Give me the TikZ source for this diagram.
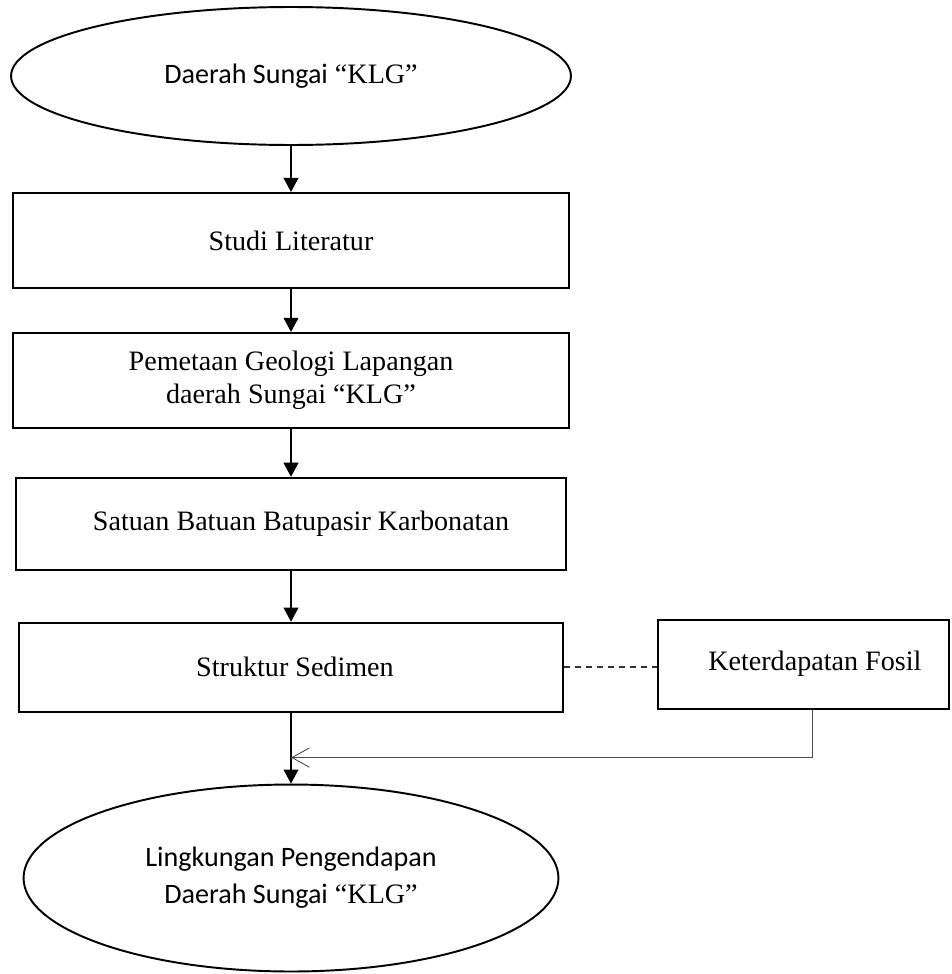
\documentclass[tikz,border=0pt]{standalone}
\usepackage{fontspec}
\setmainfont{Liberation Serif}
\newfontfamily\calibri{Carlito}
\usetikzlibrary{arrows.meta,positioning,shapes.geometric}

\begin{document}
\begin{tikzpicture}[x=0.02cm, y=-0.02cm, node distance=1cm,
    >=Latex,
    every node/.append style={align=center, font=\fontsize{16}{19}\selectfont},
    oval/.style={draw, ellipse, line width=1.1pt, inner sep=0pt},
    stage/.style={draw, rectangle, line width=1.1pt, inner sep=0pt},
    arr/.style={-{Triangle[length=8pt,width=8.5pt]}, line width=0.6pt},
    barb/.style={-{Straight Barb[length=10pt,width=11pt]}, line width=0.5pt, black!70},
    link/.style={dash pattern=on 3.4pt off 2.8pt, line width=1.1pt, black!80}]
    \useasboundingbox (0,0) rectangle (952,974);

   \node [oval, minimum width=11.2cm, minimum height=2.76cm] (daerah) at (291,76)
        {{\calibri Daerah Sungai} ``KLG''};
   \node [stage, minimum width=11.12cm, minimum height=1.9cm, below=0.92cm of daerah] (studi)
        {Studi Literatur};
   \node [stage, minimum width=11.12cm, minimum height=1.9cm, below=0.86cm of studi] (pemetaan)
        {Pemetaan Geologi Lapangan\\daerah Sungai ``KLG''};
   \node [stage, minimum width=11.02cm, minimum height=1.84cm, below=0.96cm of pemetaan] (satuan)
        {\hspace*{0.4cm}Satuan Batuan Batupasir Karbonatan};
   \node [stage, minimum width=10.9cm, minimum height=1.78cm, below=1.02cm of satuan] (struktur)
        {\hspace*{0.16cm}Struktur Sedimen};
   \node [stage, minimum width=5.82cm, minimum height=1.78cm, right=1.86cm of struktur, yshift=0.06cm] (fosil)
        {\hspace*{0.44cm}Keterdapatan Fosil};
   \node [oval, minimum width=10.7cm, minimum height=3.74cm, below=1.42cm of struktur] (lingkungan)
        {{\calibri Lingkungan Pengendapan}\\[2pt]{\calibri Daerah Sungai} ``KLG''};
   \coordinate [below=0.9cm of struktur.south] (merge);

   \draw[arr] (daerah.south) -- (studi.north);
   \draw[arr] (studi) -- (pemetaan);
   \draw[arr] (pemetaan) -- (satuan);
   \draw[arr] (satuan) -- (struktur);
   \draw[arr] (struktur) -- (lingkungan);
   \draw[link] (struktur.east) -- (struktur.east -| fosil.west);
   \draw[barb] ([xshift=0.18cm]fosil.south) |- (merge);
\end{tikzpicture}
\end{document}
